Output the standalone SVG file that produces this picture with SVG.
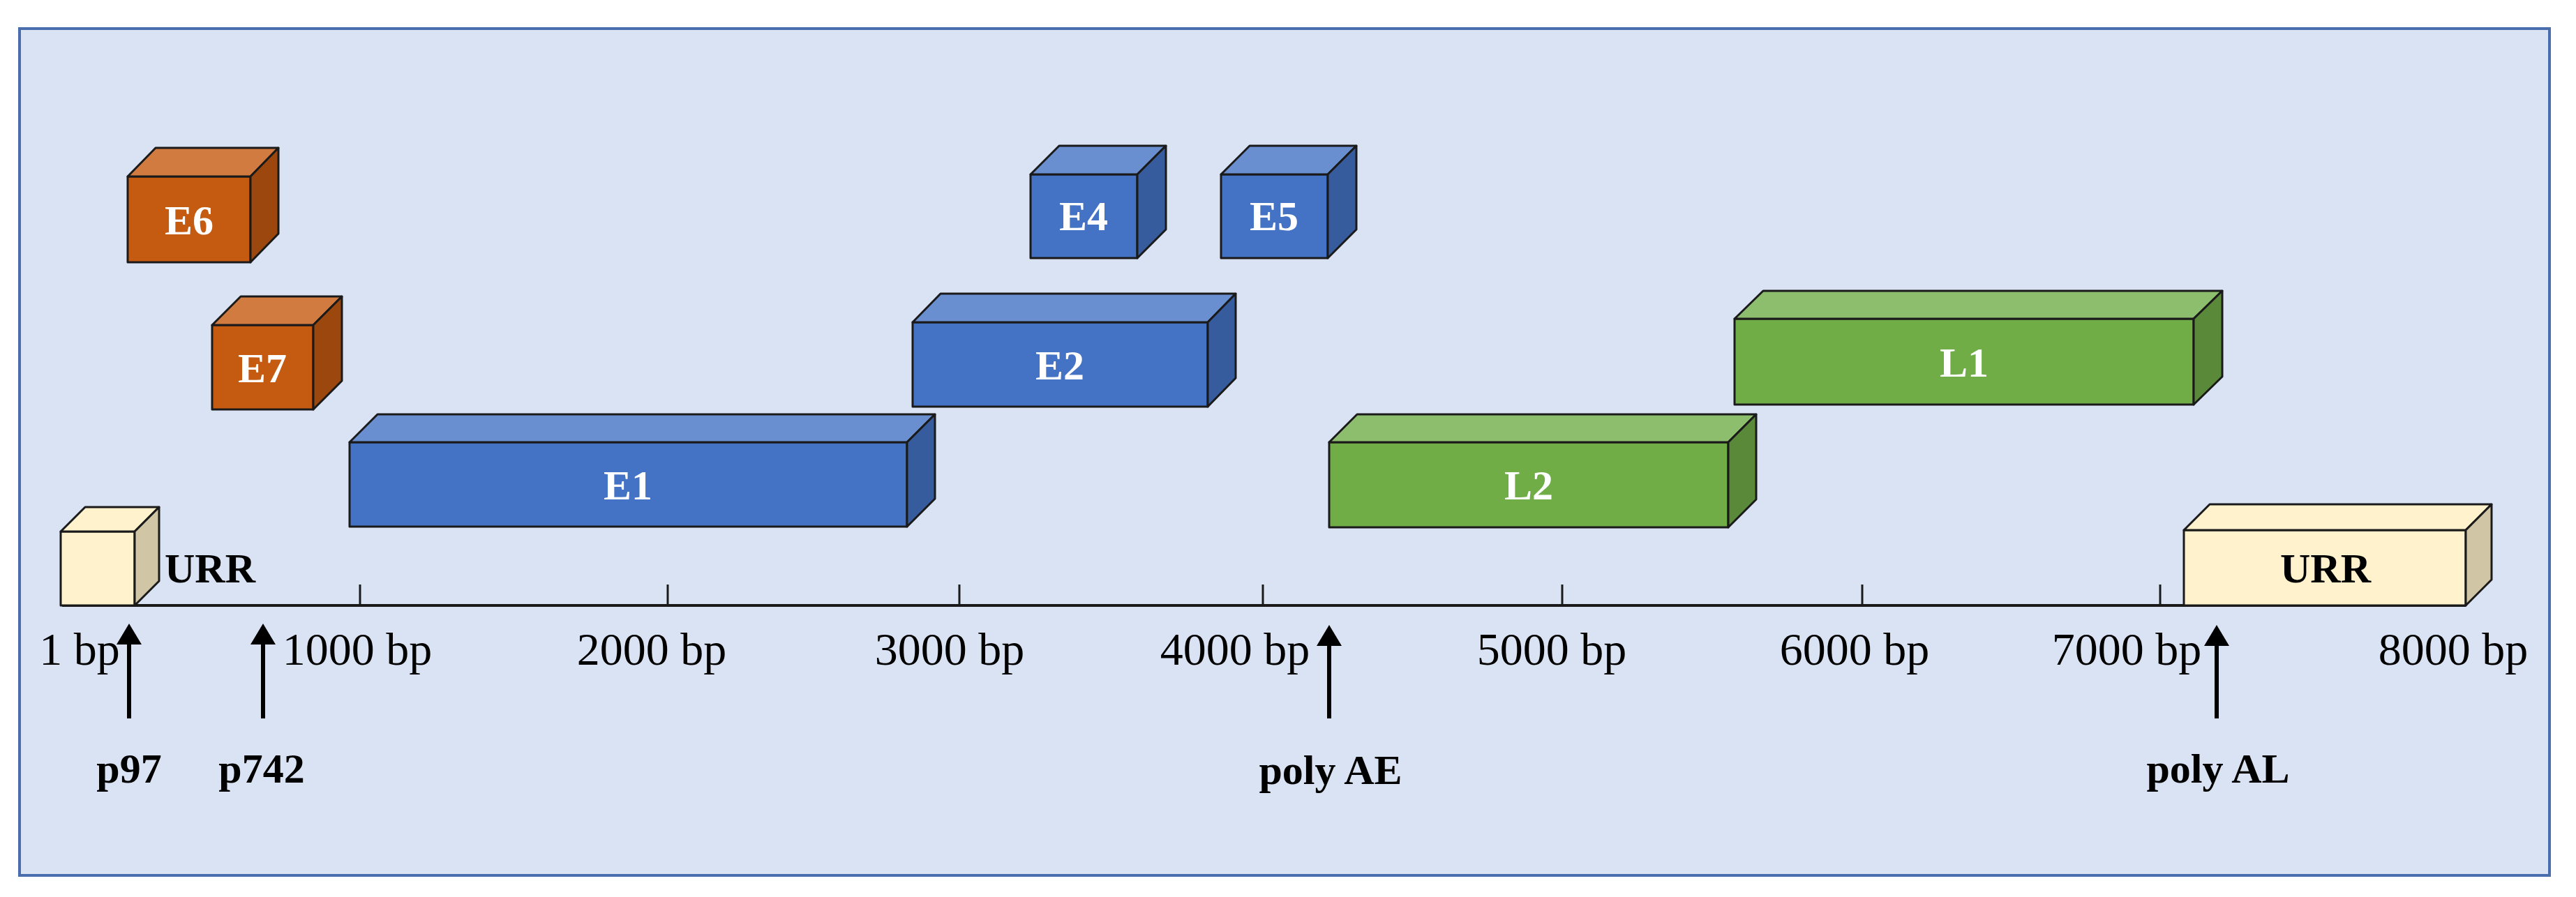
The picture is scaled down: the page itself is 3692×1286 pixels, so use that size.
<svg xmlns="http://www.w3.org/2000/svg" width="3692" height="1286" viewBox="0 0 3692 1286">
<style>
.o{stroke:#1a1a1a;stroke-width:3;stroke-linejoin:round}
.of{fill:#C55A11}.ot{fill:#D27B41}.os{fill:#9C470D}
.bf{fill:#4472C4}.bt{fill:#6A8FD0}.bs{fill:#365C9E}
.gf{fill:#70AD47}.gt{fill:#8DBE6D}.gs{fill:#5A8A39}
.cf{fill:#FFF2CC}.ct{fill:#FFF2CC}.cs{fill:#D0C5A5}
.lbl{font-family:"Liberation Serif",serif;font-weight:bold;font-size:60px;fill:#fff;text-anchor:middle}
.dk{font-family:"Liberation Serif",serif;font-weight:bold;font-size:60px;fill:#000;text-anchor:middle}
.ax{font-family:"Liberation Serif",serif;font-size:66px;fill:#000;text-anchor:middle}
</style>
<defs>
<marker id="ah" markerWidth="6" markerHeight="6" refX="1" refY="3" orient="auto" markerUnits="strokeWidth"><path d="M0,0 L5,3 L0,6 z" fill="#000"/></marker>
</defs>
<rect x="28" y="41" width="3626" height="1214" fill="#DAE3F3" stroke="#4A6DAE" stroke-width="4"/>
<g id="axis">
<line x1="89" y1="868" x2="3534" y2="868" stroke="#1a1a1a" stroke-width="4"/>
<g stroke="#1a1a1a" stroke-width="3">
<line x1="89" y1="840" x2="89" y2="868"/><line x1="516" y1="838" x2="516" y2="868"/><line x1="957" y1="838" x2="957" y2="868"/><line x1="1375" y1="838" x2="1375" y2="868"/><line x1="1810" y1="838" x2="1810" y2="868"/><line x1="2239" y1="838" x2="2239" y2="868"/><line x1="2669" y1="838" x2="2669" y2="868"/><line x1="3096" y1="838" x2="3096" y2="868"/>
</g>
<text class="ax" x="114" y="953">1 bp</text>
<text class="ax" x="512" y="953">1000 bp</text>
<text class="ax" x="934" y="953">2000 bp</text>
<text class="ax" x="1361" y="953">3000 bp</text>
<text class="ax" x="1770" y="953">4000 bp</text>
<text class="ax" x="2224" y="953">5000 bp</text>
<text class="ax" x="2658" y="953">6000 bp</text>
<text class="ax" x="3048" y="953">7000 bp</text>
<text class="ax" x="3516" y="953">8000 bp</text>
</g>
<g id="URR1" class="o"><rect class="cf" x="87" y="762" width="106" height="106"/><polygon class="ct" points="87,762 122,727 228,727 193,762"/><polygon class="cs" points="193,762 228,727 228,833 193,868"/></g>
<text class="dk" x="301" y="835">URR</text>
<g id="E6" class="o"><rect class="of" x="183" y="253" width="176" height="123"/><polygon class="ot" points="183,253 223,212 399,212 359,253"/><polygon class="os" points="359,253 399,212 399,335 359,376"/><text class="lbl" x="271" y="336" stroke="none">E6</text></g>
<g id="E7" class="o"><rect class="of" x="304" y="466" width="145" height="121"/><polygon class="ot" points="304,466 345,425 490,425 449,466"/><polygon class="os" points="449,466 490,425 490,546 449,587"/><text class="lbl" x="376" y="548" stroke="none">E7</text></g>
<g id="E1" class="o"><rect class="bf" x="501" y="634" width="799" height="121"/><polygon class="bt" points="501,634 541,594 1340,594 1300,634"/><polygon class="bs" points="1300,634 1340,594 1340,715 1300,755"/><text class="lbl" x="900" y="716" stroke="none">E1</text></g>
<g id="E2" class="o"><rect class="bf" x="1308" y="462" width="423" height="121"/><polygon class="bt" points="1308,462 1348,421 1771,421 1731,462"/><polygon class="bs" points="1731,462 1771,421 1771,542 1731,583"/><text class="lbl" x="1519" y="544" stroke="none">E2</text></g>
<g id="E4" class="o"><rect class="bf" x="1477" y="250" width="153" height="120"/><polygon class="bt" points="1477,250 1518,209 1671,209 1630,250"/><polygon class="bs" points="1630,250 1671,209 1671,329 1630,370"/><text class="lbl" x="1553" y="330" stroke="none">E4</text></g>
<g id="E5" class="o"><rect class="bf" x="1750" y="250" width="153" height="120"/><polygon class="bt" points="1750,250 1791,209 1944,209 1903,250"/><polygon class="bs" points="1903,250 1944,209 1944,329 1903,370"/><text class="lbl" x="1826" y="330" stroke="none">E5</text></g>
<g id="L2" class="o"><rect class="gf" x="1905" y="634" width="572" height="122"/><polygon class="gt" points="1905,634 1945,594 2517,594 2477,634"/><polygon class="gs" points="2477,634 2517,594 2517,716 2477,756"/><text class="lbl" x="2191" y="716" stroke="none">L2</text></g>
<g id="L1" class="o"><rect class="gf" x="2486" y="457" width="658" height="123"/><polygon class="gt" points="2486,457 2527,417 3185,417 3144,457"/><polygon class="gs" points="3144,457 3185,417 3185,540 3144,580"/><text class="lbl" x="2815" y="540" stroke="none">L1</text></g>
<g id="URR2" class="o"><rect class="cf" x="3130" y="760" width="404" height="108"/><polygon class="ct" points="3130,760 3167,723 3571,723 3534,760"/><polygon class="cs" points="3534,760 3571,723 3571,831 3534,868"/><text class="dk" x="3333" y="835" stroke="none">URR</text></g>
<g id="connectors" stroke="#000" stroke-width="6" marker-end="url(#ah)">
<line x1="185" y1="1030" x2="185" y2="918"/>
<line x1="377" y1="1030" x2="377" y2="918"/>
<line x1="1905" y1="1030" x2="1905" y2="920"/>
<line x1="3177" y1="1030" x2="3177" y2="920"/>
</g>
<text class="dk" x="185" y="1122">p97</text>
<text class="dk" x="375" y="1122">p742</text>
<text class="dk" x="1907" y="1124">poly AE</text>
<text class="dk" x="3179" y="1122">poly AL</text>
</svg>
